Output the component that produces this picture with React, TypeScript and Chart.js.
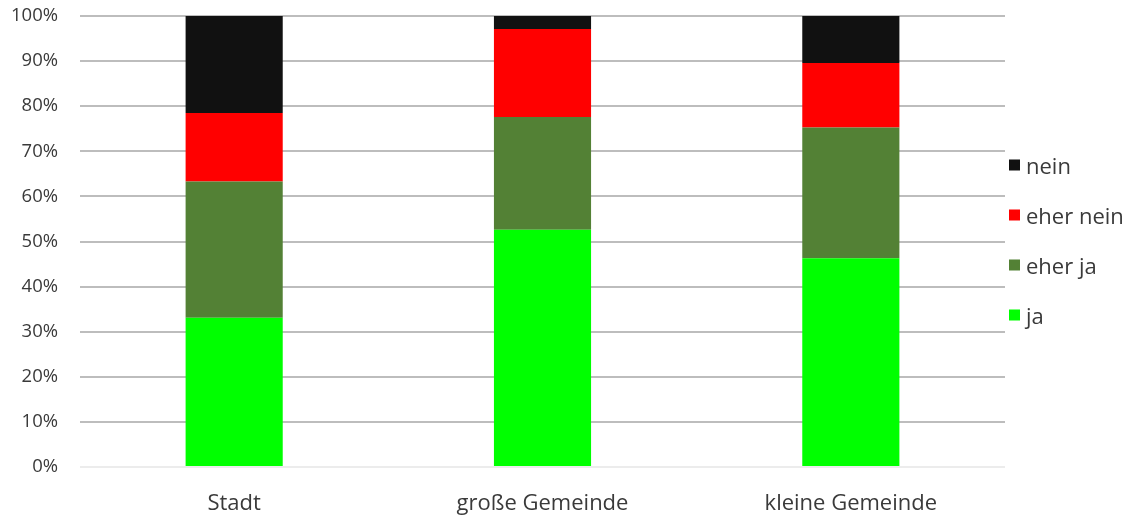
import React, { useEffect, useRef } from "react";
import { Chart, registerables } from "chart.js";

Chart.register(...registerables);

const categories = ["Stadt", "große Gemeinde", "kleine Gemeinde"];
const ja = [33.1, 52.6, 46.3];
const eherJa = [30.2, 25.0, 29.0];
const eherNein = [15.2, 19.5, 14.3];
const nein = [21.5, 2.9, 10.4];
const yTicks = [0, 10, 20, 30, 40, 50, 60, 70, 80, 90, 100];

const FONT = "'Open Sans', sans-serif";
const TEXT = "#3a3a3a";

// Legend on the right, stacked top-down in reverse dataset order
const sideLegend = {
  id: "sideLegend",
  afterDraw(chart: any) {
    const { ctx, chartArea } = chart;
    const sets = chart.data.datasets.slice().reverse();
    const mid = (chartArea.top + chartArea.bottom) / 2 + 1;
    const gap = 50;
    const start = mid - (gap * (sets.length - 1)) / 2;
    ctx.save();
    ctx.font = `22px ${FONT}`;
    ctx.textBaseline = "middle";
    ctx.textAlign = "left";
    sets.forEach((ds: any, i: number) => {
      const y = start + i * gap;
      ctx.fillStyle = ds.backgroundColor;
      ctx.fillRect(chartArea.right + 4, y - 8, 11, 11);
      ctx.fillStyle = TEXT;
      ctx.fillText(ds.label, chartArea.right + 21, y);
    });
    ctx.restore();
  },
};

export default function App() {
  const ref = useRef<HTMLCanvasElement>(null);

  useEffect(() => {
    if (!ref.current) return;
    const chart = new Chart(ref.current, {
      type: "bar",
      data: {
        labels: categories,
        datasets: [
          { label: "ja", data: ja, backgroundColor: "#00ff00" },
          { label: "eher ja", data: eherJa, backgroundColor: "#538135" },
          { label: "eher nein", data: eherNein, backgroundColor: "#ff0000" },
          { label: "nein", data: nein, backgroundColor: "#111111" },
        ].map((d) => ({
          ...d,
          categoryPercentage: 1,
          barPercentage: 0.315,
          borderWidth: 0,
        })),
      },
      options: {
        animation: false,
        responsive: false,
        maintainAspectRatio: false,
        layout: { padding: { top: 16, right: 131, bottom: 0, left: 0 } },
        plugins: { legend: { display: false }, tooltip: { enabled: false } },
        scales: {
          x: {
            stacked: true,
            grid: { display: false },
            border: { display: false },
            ticks: { color: TEXT, font: { family: FONT, size: 22 }, padding: 16, maxRotation: 0 },
            afterFit: (s: any) => {
              s.height = 48;
              s.paddingLeft = 0;
              s.paddingRight = 0;
            },
          },
          y: {
            stacked: true,
            min: 0,
            max: 100,
            afterBuildTicks: (s: any) => {
              s.ticks = yTicks.map((v) => ({ value: v }));
            },
            afterFit: (s: any) => {
              s.width = 80;
              s.paddingTop = 0;
              s.paddingBottom = 0;
            },
            grid: {
              color: (c: any) => (c.tick && c.tick.value === 0 ? "#ececec" : "#bdbdbd"),
              lineWidth: 2,
              drawTicks: false,
            },
            border: { display: false },
            ticks: {
              color: TEXT,
              font: { family: FONT, size: 18.5 },
              padding: 22,
              callback: (v: any) => `${v}%`,
            },
          },
        },
      },
      plugins: [sideLegend],
    });
    return () => chart.destroy();
  }, []);

  return (
    <div style={{ position: "fixed", left: 0, top: 0, width: 1136, height: 515, background: "#fff" }}>
      <canvas ref={ref} width={1136} height={515} />
    </div>
  );
}
